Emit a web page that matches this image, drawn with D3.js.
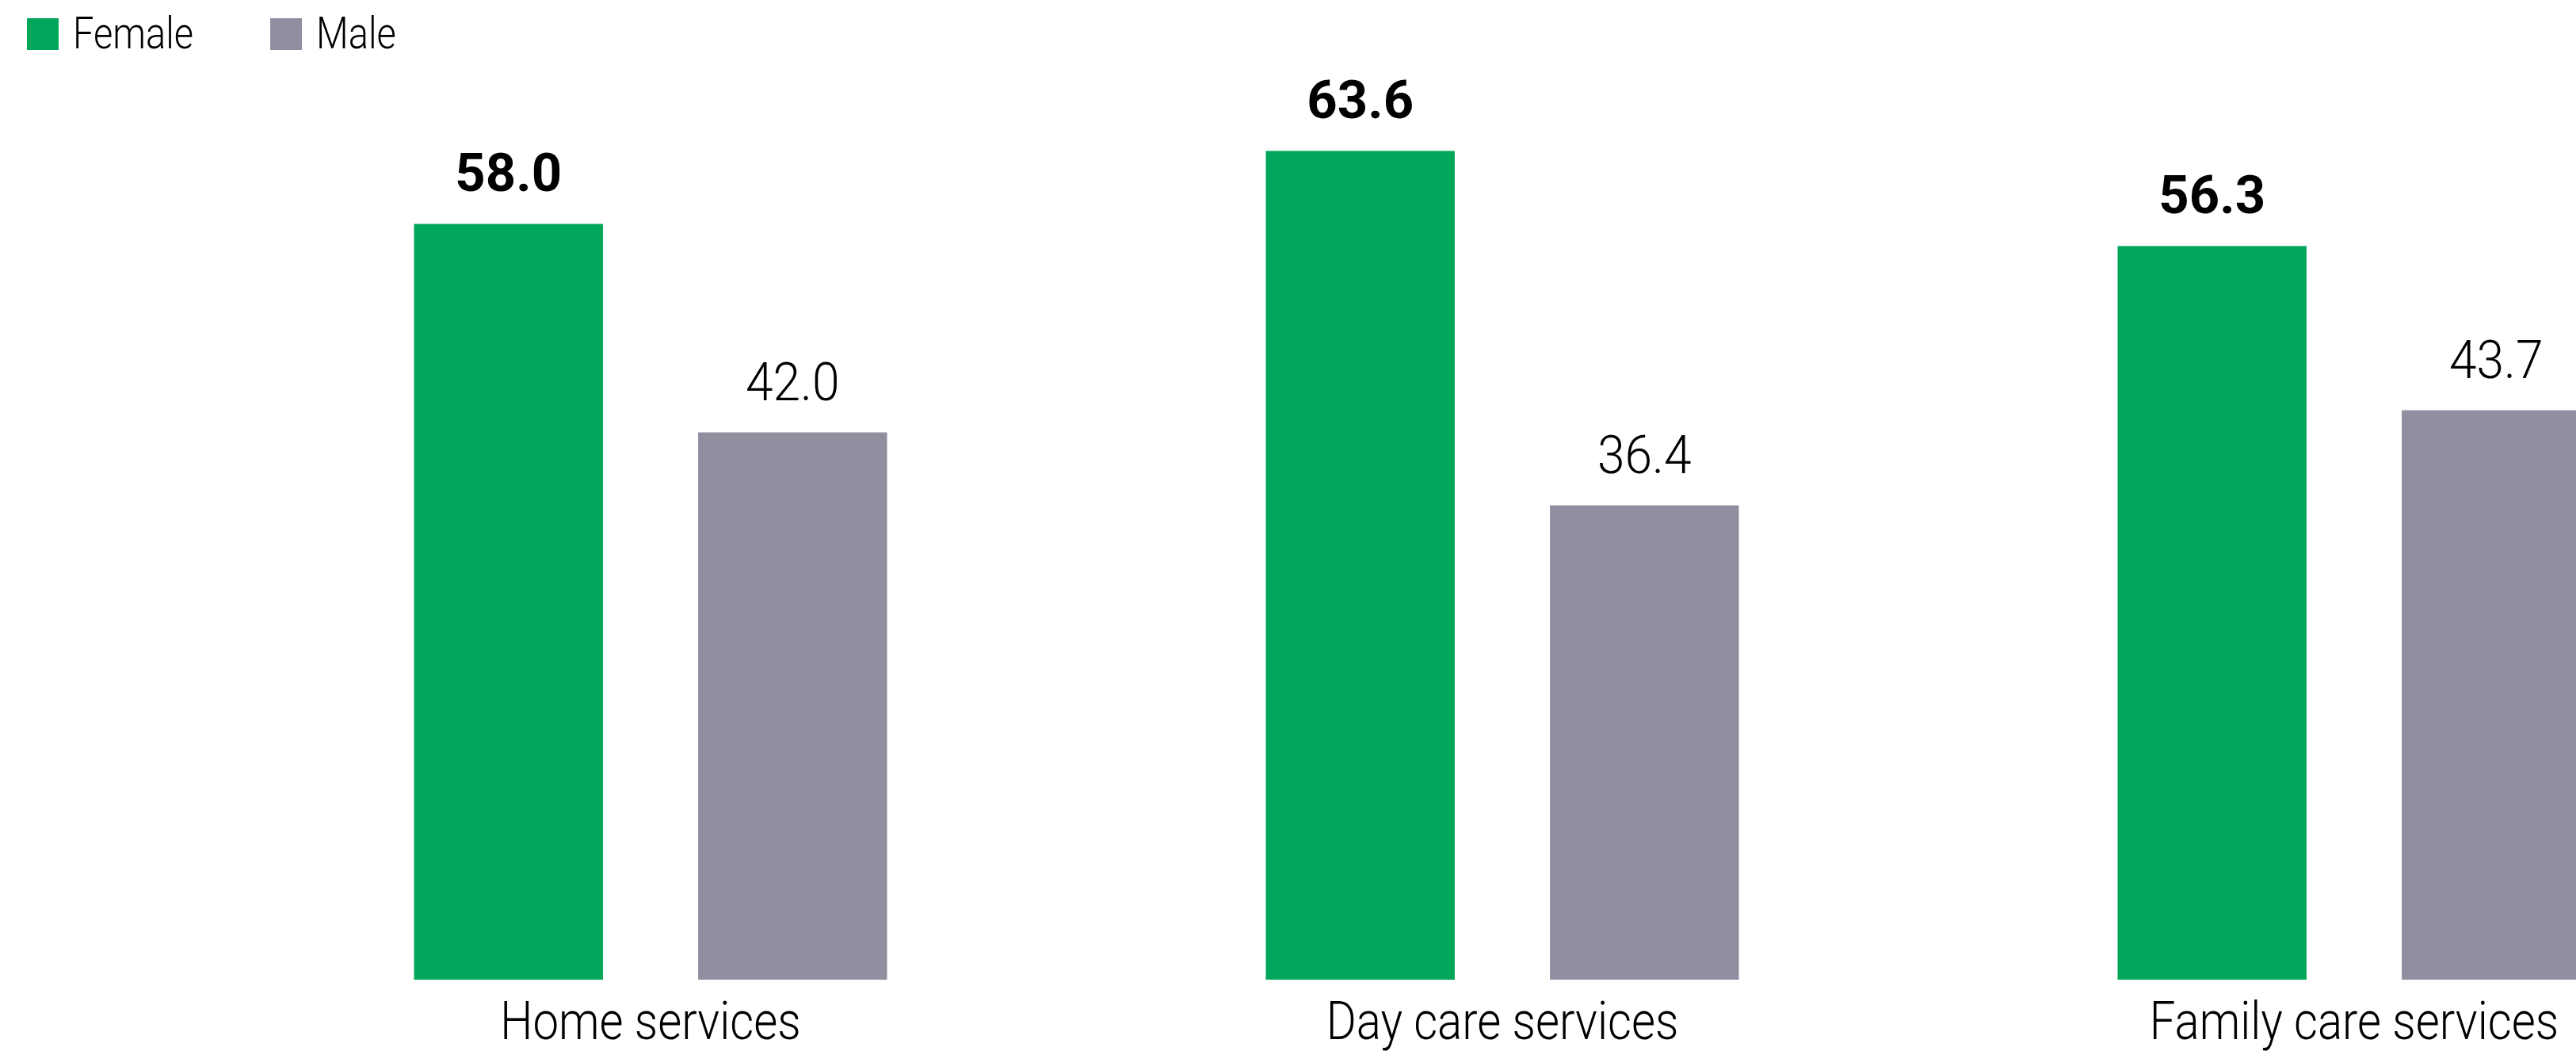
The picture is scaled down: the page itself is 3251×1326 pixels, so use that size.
<!DOCTYPE html>
<html>
<head>
<meta charset="utf-8">
<script src="https://cdn.jsdelivr.net/npm/d3@7"></script>
<style>
  html, body { margin: 0; padding: 0; background: #fff; }
  svg { display: block; font-family: Roboto, "Liberation Sans", sans-serif; }
</style>
</head>
<body>
<script>
const w = 3251; // width of chart
const h = 1326; // height of chart

// chart data
const categories = ["Home services", "Day care services", "Family care services"];
const series = ["Female", "Male"];
const femaleValues = [58.0, 63.6, 56.3];
const maleValues = [42.0, 36.4, 43.7];

const colors = { Female: "#00a65a", Male: "#8f8fa0" };
const squeeze = 0.88; // the original font is a condensed one

const rows = categories.map((c, i) => ({
    category: c,
    values: [
        { key: "Female", value: femaleValues[i] },
        { key: "Male", value: maleValues[i] }
    ]
}));

const svg = d3.select("body")
    .append("svg")
    .attr("width", w)
    .attr("height", h);

// Legend at top left
function buildLegend() {
    const lg = svg.append("g").attr("class", "legend");
    const item = lg.selectAll("g")
        .data(series)
        .enter()
        .append("g")
        .attr("transform", (d, i) => `translate(${34 + i * 307},23)`);

    item.append("rect")
        .attr("width", 40)
        .attr("height", 40)
        .attr("fill", d => colors[d]);

    item.append("text")
        .attr("transform", `translate(58,38) scale(0.84,1)`)
        .attr("font-size", 56)
        .attr("font-weight", 300)
        .attr("fill", "#000")
        .text(d => d);
}

// Grouped bars
function buildBars() {
    const x0 = d3.scaleBand()
        .domain(categories)
        .range([283.5, 3508.5]);

    const x1 = d3.scaleBand()
        .domain(series)
        .range([239, 836])
        .paddingInner(0.335);

    const y = d3.scaleLinear()
        .domain([0, 75])
        .range([1236, 3]);

    const group = svg.selectAll("g.group")
        .data(rows)
        .enter()
        .append("g")
        .attr("class", "group")
        .attr("transform", d => `translate(${x0(d.category)},0)`);

    group.selectAll("rect")
        .data(d => d.values)
        .enter()
        .append("rect")
        .attr("x", d => x1(d.key))
        .attr("y", d => y(d.value))
        .attr("width", x1.bandwidth())
        .attr("height", d => y(0) - y(d.value))
        .attr("fill", d => colors[d.key]);

    // value labels, female bold
    group.selectAll("text.value")
        .data(d => d.values)
        .enter()
        .append("text")
        .attr("class", "value")
        .attr("transform", d => `translate(${x1(d.key) + x1.bandwidth() / 2},${y(d.value) - 41})` +
            (d.key === "Male" ? " scale(0.93,1)" : ""))
        .attr("text-anchor", "middle")
        .attr("font-size", 67)
        .attr("font-weight", d => d.key === "Female" ? 700 : 300)
        .attr("fill", "#000")
        .text(d => d3.format(".1f")(d.value));

    // category axis labels
    const xAxis = d3.axisBottom(x0).tickSize(0).tickPadding(0);
    const ax = svg.append("g")
        .attr("transform", `translate(0,1311)`)
        .call(xAxis);
    ax.select(".domain").remove();
    ax.selectAll(".tick text")
        .attr("y", 0)
        .attr("dy", 0)
        .attr("transform", `scale(${squeeze},1)`)
        .attr("font-size", 66)
        .attr("font-weight", 300)
        .attr("font-family", "Roboto, 'Liberation Sans', sans-serif")
        .attr("fill", "#000");
}

buildLegend();
buildBars();
</script>
</body>
</html>
